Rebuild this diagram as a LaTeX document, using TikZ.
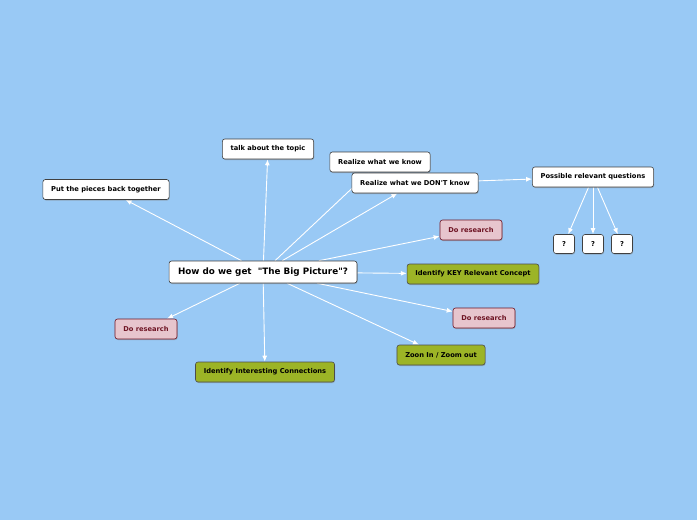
\documentclass[tikz,border=0pt]{standalone}
\usepackage{fontspec}
\setmainfont{DejaVu Sans}
\usetikzlibrary{backgrounds,shadows,arrows.meta}
\definecolor{ceu}{RGB}{153,201,245}
\definecolor{rosa}{RGB}{231,197,205}
\definecolor{vinho}{RGB}{110,20,35}
\definecolor{oliva}{RGB}{156,180,38}

\begin{document}
\begin{tikzpicture}[x=1pt, y=-1pt,
    topico/.style={draw=black!75, fill=white, rounded corners=2.5pt,
      line width=0.6pt, minimum height=20pt, inner xsep=8.3pt,
      font=\bfseries\fontsize{6.7}{8}\selectfont,
      drop shadow={shadow xshift=0.6pt, shadow yshift=-1pt, opacity=0.45}},
    central/.style={topico, minimum height=22pt, inner xsep=9pt,
      font=\bfseries\fontsize{8.8}{10}\selectfont}, % no principal
    pesquisa/.style={topico, fill=rosa, draw=vinho, text=vinho}, % rosa
    chave/.style={topico, fill=oliva, draw=black!70}, % verde
    pergunta/.style={topico, minimum width=21pt, minimum height=19pt,
      inner xsep=2pt},
    ligacao/.style={draw=white, line width=0.9pt,
      -{Latex[length=6pt, width=5pt]}},
  ]
  % no central
  \node[central] (grande) at (263,272)
    {How do we get~ \textquotedbl The Big Picture\textquotedbl ?};

  % ramos de cima
  \node[topico] (pecas) at (106,189.5) {Put the pieces back together};
  \node[topico] (falar) at (268,149) {talk about the topic};
  \node[topico] (sabemos) at (380,162) {Realize what we know};
  \node[topico] (naosabemos) at (415,183)
    {Realize what we DON\textquotesingle T know};
  \node[topico] (perguntas) at (593,177) {Possible relevant questions};
  \node[pergunta] (p1) at (564,244) {?};
  \node[pergunta] (p2) at (593,244) {?};
  \node[pergunta] (p3) at (622,244) {?};

  % ramos da direita e de baixo
  \node[pesquisa] (pesq1) at (471,230) {Do research};
  \node[chave] (conceito) at (473,274) {Identify KEY Relevant Concept};
  \node[pesquisa] (pesq2) at (484,318) {Do research};
  \node[chave] (zoom) at (441,355) {Zoon In / Zoom out};
  \node[chave] (conexoes) at (265,372) {Identify Interesting Connections};
  \node[pesquisa] (pesq3) at (146,329) {Do research};

  \begin{scope}[on background layer]
    \fill[ceu] (0,0) rectangle (697,520);
    \draw[ligacao] (grande) -- (pecas);
    \draw[ligacao] (grande) -- (falar);
    \draw[ligacao] (grande) -- (sabemos);
    \draw[ligacao] (grande) -- (naosabemos);
    \draw[ligacao] (grande) -- (pesq1);
    \draw[ligacao] (grande) -- (conceito);
    \draw[ligacao] (grande) -- (pesq2);
    \draw[ligacao] (grande) -- (zoom);
    \draw[ligacao] (grande) -- (conexoes);
    \draw[ligacao] (grande) -- (pesq3);
    \draw[ligacao] (naosabemos) -- (perguntas);
    \draw[ligacao] (perguntas) -- (p1);
    \draw[ligacao] (perguntas) -- (p2);
    \draw[ligacao] (perguntas) -- (p3);
  \end{scope}
\end{tikzpicture}
\end{document}
